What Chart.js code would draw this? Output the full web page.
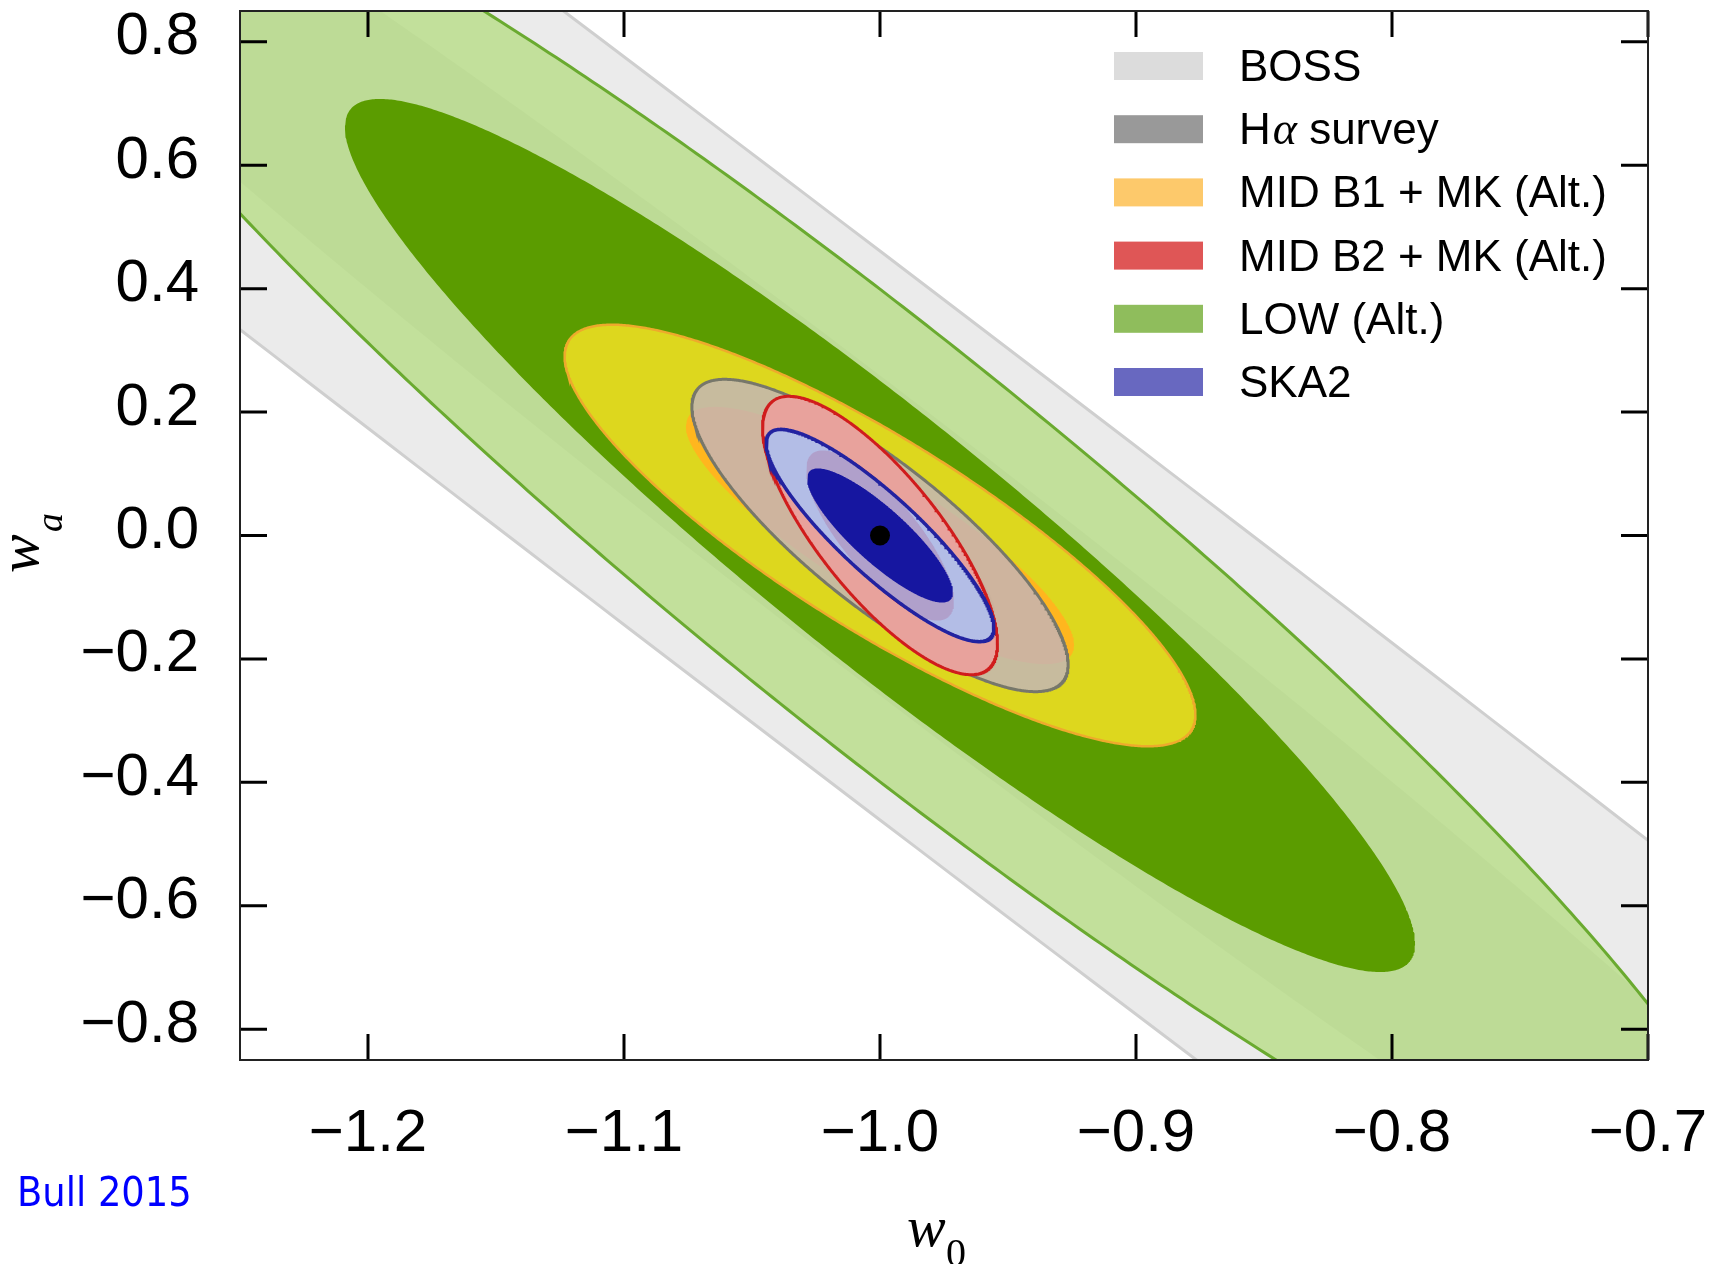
<!DOCTYPE html>
<html>
<head>
<meta charset="utf-8">
<title>w0 - wa forecasts</title>
<script src="https://cdn.jsdelivr.net/npm/chart.js@4.4.1/dist/chart.umd.min.js"></script>
<style>
  body { margin: 0; background: #fff; }
  canvas { display: block; }
</style>
</head>
<body>
<canvas id="myChart" width="1730" height="1264"></canvas>
<script>
// fiducial model
var fiducialW0 = -1.0;
var fiducialWa = 0.0;

var surveys = ['BOSS', 'Hα survey', 'MID B1 + MK (Alt.)', 'MID B2 + MK (Alt.)', 'LOW (Alt.)', 'SKA2'];

// contour half-extents along w0 and wa, and correlation
var halfW0_2sig = [1.6, 0.0735, 0.1232, 0.0459, 0.345, 0.0445];
var halfWa_2sig = [5.072, 0.2531, 0.3416, 0.2256, 1.170, 0.172];
var rho_2sig = [-0.99586, -0.825, -0.85, -0.775, -0.940, -0.87];

var halfW0_1sig = [0.45, 0.0449, 0.0758, 0.0289, 0.209, 0.0285];
var halfWa_1sig = [1.4442, 0.1545, 0.2085, 0.1379, 0.7075, 0.1087];
var rho_1sig = [-0.98373, -0.825, -0.85, -0.775, -0.935, -0.85];

var xTicks = [-1.2, -1.1, -1.0, -0.9, -0.8, -0.7];
var yTicks = [-0.8, -0.6, -0.4, -0.2, 0.0, 0.2, 0.4, 0.6, 0.8];

// styles
var drawOrder = [0, 4, 2, 1, 3, 5];
var fill2 = ['#ebebeb', 'rgba(192,180,195,0.78)', '#ddd71e', '#e8a29c', 'rgba(180,220,128,0.75)', 'rgba(165,196,249,0.8)'];
var fill1 = ['#d7d7d7', 'rgba(170,150,140,0.12)', '#ffb61e', '#dc1018', '#5b9c00', '#1616a0'];
var edge2 = ['#cfcfcf', '#77776a', '#eeaa2c', '#d01c1c', '#6aaa30', '#2222a0'];
var edgeW = [3, 3, 2.5, 3, 3, 3.5];
var legendColors = ['#dcdcdc', '#999999', '#fdc96b', '#df5656', '#8fbd5c', '#6868c0'];

function ellipse(hw, hh, rho) {
  var pts = [];
  var s = Math.sqrt(1 - rho * rho);
  for (var i = 0; i <= 720; i++) {
    var t = i * Math.PI / 360;
    pts.push({
      x: fiducialW0 + hw * Math.cos(t),
      y: fiducialWa + hh * (rho * Math.cos(t) + s * Math.sin(t))
    });
  }
  return pts;
}

var datasets = [];
drawOrder.forEach(function (k) {
  datasets.push({
    label: surveys[k] + ' 2σ',
    data: ellipse(halfW0_2sig[k], halfWa_2sig[k], rho_2sig[k]),
    backgroundColor: fill2[k],
    borderColor: edge2[k],
    borderWidth: edgeW[k],
    fill: 'shape'
  });
  datasets.push({
    label: surveys[k] + ' 1σ',
    data: ellipse(halfW0_1sig[k], halfWa_1sig[k], rho_1sig[k]),
    backgroundColor: fill1[k],
    borderColor: 'rgba(0,0,0,0)',
    borderWidth: 0,
    fill: 'shape'
  });
});
datasets.push({
  label: 'fiducial',
  data: [{x: fiducialW0, y: fiducialWa}],
  showLine: false,
  pointRadius: 10,
  pointBackgroundColor: '#000',
  pointBorderWidth: 0
});
datasets.forEach(function (d, i) {
  d.order = -i;
  d.clip = 0;
});

function fmt(v) {
  return v.toFixed(1).replace('-', '\u2212');
}

function noPad(scale) {
  scale.paddingTop = 0;
  scale.paddingBottom = 0;
  scale.paddingLeft = 0;
  scale.paddingRight = 0;
}

var tickFont = {family: '"Liberation Sans", Arial, Helvetica, sans-serif', size: 60};

// inward ticks on all four sides + frame
var frameTicks = {
  id: 'frameTicks',
  afterDatasetsDraw: function (chart) {
    var ctx = chart.ctx, a = chart.chartArea;
    var x = chart.scales.x, y = chart.scales.y;
    ctx.save();
    ctx.strokeStyle = '#000';
    ctx.lineWidth = 3;
    ctx.beginPath();
    xTicks.forEach(function (v) {
      var px = x.getPixelForValue(v);
      ctx.moveTo(px, a.bottom); ctx.lineTo(px, a.bottom - 26);
      ctx.moveTo(px, a.top); ctx.lineTo(px, a.top + 26);
    });
    yTicks.forEach(function (v) {
      var py = y.getPixelForValue(v);
      ctx.moveTo(a.left, py); ctx.lineTo(a.left + 27, py);
      ctx.moveTo(a.right, py); ctx.lineTo(a.right - 27, py);
    });
    ctx.stroke();
    ctx.lineWidth = 2;
    ctx.strokeStyle = '#222';
    ctx.strokeRect(a.left, a.top, a.right - a.left, a.bottom - a.top);
    ctx.restore();
  }
};

// legend, axis titles, credit
var decorations = {
  id: 'decorations',
  afterDraw: function (chart) {
    var ctx = chart.ctx;
    ctx.save();
    var legendFont = '44px "Liberation Sans", Arial, Helvetica, sans-serif';
    surveys.forEach(function (label, i) {
      var cy = 66 + i * 63.2;
      ctx.fillStyle = legendColors[i];
      ctx.fillRect(1114, cy - 14, 89, 28);
      ctx.fillStyle = '#000';
      ctx.font = legendFont;
      ctx.textBaseline = 'alphabetic';
      ctx.textAlign = 'left';
      var tx = 1239, ty = cy + 15;
      var parts = label.split('α');
      if (parts.length > 1) {
        ctx.fillText(parts[0], tx, ty);
        var w1 = ctx.measureText(parts[0]).width;
        ctx.font = 'italic 46px "Liberation Serif", "DejaVu Serif", serif';
        ctx.fillText('α', tx + w1 + 2, ty);
        var w2 = ctx.measureText('α').width;
        ctx.font = legendFont;
        ctx.fillText(parts[1], tx + w1 + w2 + 2, ty);
      } else {
        ctx.fillText(label, tx, ty);
      }
    });

    // x title w_0
    ctx.fillStyle = '#000';
    ctx.font = 'italic 58px "Liberation Serif", "DejaVu Serif", serif';
    ctx.fillText('w', 907, 1246);
    ctx.font = '40px "Liberation Serif", "DejaVu Serif", serif';
    ctx.fillText('0', 946, 1266);

    // y title w_a
    ctx.save();
    ctx.translate(38, 573);
    ctx.rotate(-Math.PI / 2);
    ctx.font = 'italic 58px "Liberation Serif", "DejaVu Serif", serif';
    ctx.fillText('w', 0, 0);
    ctx.font = 'italic 38px "Liberation Serif", "DejaVu Serif", serif';
    ctx.fillText('a', 41, 24);
    ctx.restore();

    // credit
    ctx.fillStyle = '#0000ff';
    if ('fontStretch' in ctx) ctx.fontStretch = 'condensed';
    ctx.font = '41px "DejaVu Sans Condensed", "DejaVu Sans", sans-serif';
    ctx.fillText('Bull 2015', 17, 1206);
    ctx.restore();
  }
};

var ctx = document.getElementById('myChart').getContext('2d');
var myChart = new Chart(ctx, {
  type: 'line',
  data: {datasets: datasets},
  options: {
    responsive: false,
    devicePixelRatio: 1,
    animation: false,
    events: [],
    layout: {padding: {top: 11, right: 82, bottom: 0, left: 0}},
    elements: {
      point: {radius: 0},
      line: {tension: 0}
    },
    plugins: {
      legend: {display: false},
      tooltip: {enabled: false}
    },
    scales: {
      x: {
        type: 'linear',
        min: -1.25,
        max: -0.7,
        grid: {display: false},
        border: {display: false},
        afterBuildTicks: function (scale) {
          scale.ticks = xTicks.map(function (v) { return {value: v}; });
        },
        afterFit: function (scale) { scale.height = 204; noPad(scale); },
        ticks: {
          font: tickFont,
          color: '#000',
          padding: 30,
          autoSkip: false,
          maxRotation: 0,
          minRotation: 0,
          callback: function (v) { return fmt(v); }
        }
      },
      y: {
        type: 'linear',
        min: -0.85,
        max: 0.85,
        grid: {display: false},
        border: {display: false},
        afterBuildTicks: function (scale) {
          scale.ticks = yTicks.map(function (v) { return {value: v}; });
        },
        afterFit: function (scale) { scale.width = 240; noPad(scale); },
        ticks: {
          font: tickFont,
          color: '#000',
          padding: 33,
          labelOffset: -4,
          autoSkip: false,
          callback: function (v) { return fmt(v); }
        }
      }
    }
  },
  plugins: [frameTicks, decorations]
});
</script>
</body>
</html>
